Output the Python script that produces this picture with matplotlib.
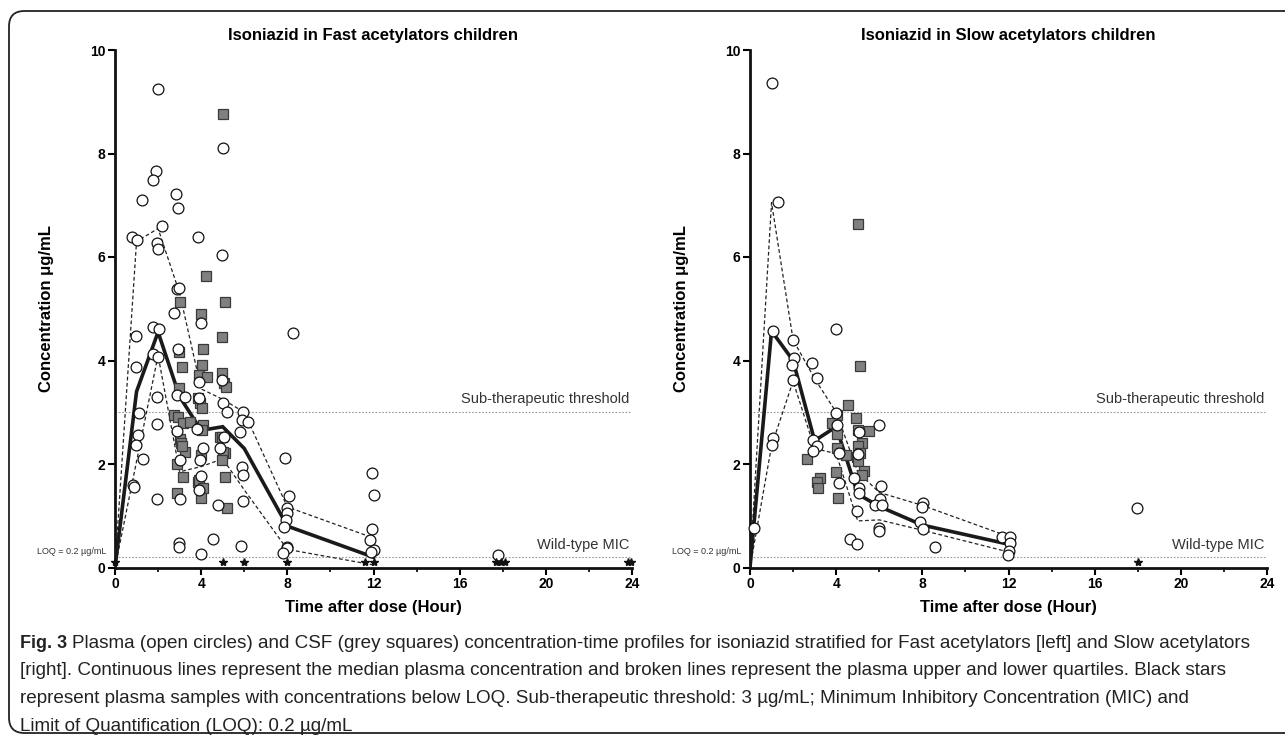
import matplotlib
matplotlib.use("Agg")
import matplotlib.pyplot as plt
from matplotlib.patches import FancyBboxPatch
from matplotlib.ticker import MultipleLocator

plt.rcParams['font.family'] = ['Liberation Sans', 'DejaVu Sans']

# ---- Fast acetylators (left) ----
fast_circ_x = [0.8, 1.0, 1.27, 0.97, 0.97, 1.1, 1.07, 0.97, 1.3, 0.85, 0.9,
               2.0, 1.9, 1.77, 2.18, 1.93, 2.0, 1.76, 2.04, 1.76, 2.0, 1.95, 1.95, 1.95,
               2.83, 2.92, 2.9, 2.95, 2.73, 2.93, 2.87, 3.24, 2.87, 3.0, 3.0, 2.97, 2.97,
               3.83, 4.0, 3.89, 3.89, 3.8, 4.08, 3.94, 3.98, 3.89, 3.98,
               5.0, 4.97, 4.96, 5.0, 5.2, 4.87, 5.05, 4.77, 4.54,
               5.94, 5.9, 6.17, 5.8, 5.9, 5.94, 5.94, 5.84,
               8.25, 7.9, 8.07, 7.97, 7.97, 7.92, 7.83, 7.97, 8.0, 7.8,
               11.95, 12.0, 11.95, 11.86, 12.0, 11.9, 17.8]
fast_circ_y = [6.39, 6.33, 7.1, 4.47, 3.87, 2.98, 2.56, 2.37, 2.1, 1.6, 1.55,
               9.25, 7.66, 7.49, 6.6, 6.27, 6.15, 4.65, 4.6, 4.12, 4.07, 3.3, 2.77, 1.33,
               7.21, 6.94, 5.38, 5.4, 4.92, 4.23, 3.33, 3.3, 2.64, 2.08, 1.32, 0.47, 0.4,
               6.38, 4.73, 3.59, 3.28, 2.67, 2.31, 2.08, 1.77, 1.5, 0.26,
               8.1, 6.03, 3.62, 3.17, 3.0, 2.31, 2.52, 1.21, 0.55,
               3.0, 2.85, 2.81, 2.62, 1.94, 1.79, 1.28, 0.41,
               4.53, 2.12, 1.38, 1.15, 1.05, 0.92, 0.78, 0.4, 0.38, 0.28,
               1.82, 1.4, 0.74, 0.53, 0.34, 0.3, 0.24]
fast_sq_x = [5.0, 4.23, 3.0, 5.1, 4.0, 4.96, 2.95, 4.08, 3.1, 4.03, 4.96, 3.9, 4.26,
             5.05, 5.14, 2.97, 3.85, 3.94, 4.03, 2.73, 2.92, 3.15, 3.48, 4.08, 4.03,
             3.0, 3.05, 3.24, 3.1, 4.87, 4.96, 5.1, 5.0, 4.96, 2.87, 3.98, 5.1, 3.15,
             3.85, 3.9, 4.08, 2.87, 3.98, 5.2]
fast_sq_y = [8.76, 5.63, 5.13, 5.13, 4.9, 4.45, 4.16, 4.22, 3.87, 3.91, 3.76, 3.72, 3.68,
             3.57, 3.49, 3.47, 3.27, 3.18, 3.08, 2.95, 2.91, 2.79, 2.81, 2.75, 2.66,
             2.48, 2.4, 2.23, 2.35, 2.52, 2.52, 2.21, 2.23, 2.08, 2.0, 2.17, 1.75, 1.75,
             1.65, 1.69, 1.53, 1.44, 1.34, 1.15]
fast_star_x = [0, 5, 6, 8, 11.6, 12, 17.7, 17.9, 18.1, 23.8, 23.95]
fast_t = [0, 1, 2, 3, 4, 5, 6, 8, 12]
fast_median = [0, 3.4, 4.55, 3.3, 2.65, 2.72, 2.3, 0.8, 0.2]
fast_upper = [0, 6.3, 6.55, 5.3, 3.45, 3.25, 3.0, 1.17, 0.57]
fast_lower = [0, 2.05, 4.1, 1.85, 1.95, 2.1, 1.5, 0.35, 0.05]

# ---- Slow acetylators (right) ----
slow_circ_x = [0.19, 1.02, 1.3, 1.06, 1.06, 1.02, 1.99, 2.04, 1.95, 1.99, 2.87, 3.1,
               3.99, 3.99, 4.03, 2.92, 3.1, 2.92, 4.12, 5.05, 5.98, 5.0, 4.82, 4.12,
               5.05, 5.05, 6.07, 6.02, 5.79, 6.12, 4.96, 5.98, 5.98, 4.63, 4.96,
               8.02, 7.97, 7.88, 8.02, 8.57, 11.68, 12.05, 12.05, 12.0, 11.96, 17.98]
slow_circ_y = [0.76, 9.37, 7.06, 4.57, 2.5, 2.36, 4.4, 4.04, 3.91, 3.62, 3.95, 3.66,
               4.61, 2.98, 2.75, 2.46, 2.35, 2.25, 2.21, 2.62, 2.75, 2.19, 1.72, 1.64,
               1.54, 1.44, 1.58, 1.32, 1.2, 1.2, 1.09, 0.77, 0.7, 0.55, 0.45,
               1.24, 1.17, 0.88, 0.75, 0.4, 0.59, 0.59, 0.47, 0.32, 0.24, 1.15]
slow_sq_x = [5.0, 5.1, 4.54, 4.91, 4.03, 3.8, 4.03, 5.0, 5.51, 2.64, 4.03, 5.19, 5.0,
             4.45, 5.1, 4.96, 5.0, 5.28, 5.19, 3.99, 3.24, 3.1, 3.15, 4.08]
slow_sq_y = [6.64, 3.89, 3.14, 2.88, 2.95, 2.79, 2.58, 2.66, 2.64, 2.09, 2.31, 2.41, 2.35,
             2.17, 2.21, 2.14, 2.06, 1.86, 1.79, 1.85, 1.73, 1.65, 1.53, 1.34]
slow_star_x = [18]
slow_t = [0, 1, 2, 3, 4, 4.75, 5, 6, 8, 12]
slow_median = [0, 4.57, 4.0, 2.45, 2.72, 1.75, 1.42, 1.18, 0.82, 0.45]
slow_upper_t = [0, 1, 2, 3, 4, 5, 6, 8, 12]
slow_upper = [0, 7.05, 4.4, 3.65, 3.0, 1.85, 1.45, 1.2, 0.6]
slow_lower = [0, 2.35, 3.6, 2.3, 2.2, 0.9, 0.92, 0.72, 0.3]

SUB_THR = 3.0
MIC = 0.2

titles = ["Isoniazid in Fast acetylators children", "Isoniazid in Slow acetylators children"]
caption = [
    "Plasma (open circles) and CSF (grey squares) concentration-time profiles for isoniazid stratified for Fast acetylators [left] and Slow acetylators",
    "[right]. Continuous lines represent the median plasma concentration and broken lines represent the plasma upper and lower quartiles. Black stars",
    "represent plasma samples with concentrations below LOQ. Sub-therapeutic threshold: 3 \u00b5g/mL; Minimum Inhibitory Concentration (MIC) and",
    "Limit of Quantification (LOQ): 0.2 \u00b5g/mL",
]

fig = plt.figure(figsize=(12.85, 7.36), dpi=100)

# rounded frame around the figure
frame = FancyBboxPatch((9 / 1285, 3 / 736), 1300 / 1285, 722 / 736,
                       boxstyle="round,pad=0,rounding_size=0.012",
                       transform=fig.transFigure, fill=False, lw=1.3, ec='#222222',
                       mutation_aspect=1285 / 736)
fig.patches.append(frame)

panels = [
    dict(left=115, circ=(fast_circ_x, fast_circ_y), sq=(fast_sq_x, fast_sq_y), stars=fast_star_x,
         med=(fast_t, fast_median), up=(fast_t, fast_upper), lo=(fast_t, fast_lower), title=titles[0]),
    dict(left=750, circ=(slow_circ_x, slow_circ_y), sq=(slow_sq_x, slow_sq_y), stars=slow_star_x,
         med=(slow_t, slow_median), up=(slow_upper_t, slow_upper), lo=(slow_upper_t, slow_lower), title=titles[1]),
]

for p in panels:
    ax = fig.add_axes([p['left'] / 1285, (736 - 567.5) / 736, 517 / 1285, 517.5 / 736])
    ax.set_xlim(0, 24)
    ax.set_ylim(0, 10)
    ax.axhline(SUB_THR, color='#9a9a9a', lw=0.8, ls=(0, (1.5, 1.5)), zorder=1)
    ax.axhline(MIC, color='#9a9a9a', lw=0.8, ls=(0, (1.5, 1.5)), zorder=1)
    ax.plot(*p['up'], color='#222222', lw=0.9, ls=(0, (3, 2)), zorder=2)
    ax.plot(*p['lo'], color='#222222', lw=0.9, ls=(0, (3, 2)), zorder=2)
    ax.plot(*p['med'], color='#1a1a1a', lw=2.6, zorder=3, solid_joinstyle='miter')
    ax.plot(*p['sq'], ls='none', marker='s', ms=7, mfc='#808080', mec='#3a3a3a', mew=0.9,
            zorder=4, clip_on=False)
    ax.plot(*p['circ'], ls='none', marker='o', ms=7.8, mfc='white', mec='#111111', mew=0.9,
            zorder=5, clip_on=False)
    ax.plot(p['stars'], [0.1] * len(p['stars']), ls='none', marker='*', ms=6, color='#111111',
            zorder=6, clip_on=False)

    ax.text(23.9, SUB_THR + 0.12, "Sub-therapeutic threshold", ha='right', va='bottom',
            fontsize=10.5, color='#333333')
    ax.text(23.9, MIC + 0.1, "Wild-type MIC", ha='right', va='bottom',
            fontsize=10.5, color='#333333')
    ax.text(-0.4, MIC + 0.02, "LOQ = 0.2 \u00b5g/mL", ha='right', va='bottom',
            fontsize=6.5, color='#333333', clip_on=False)

    for s in ['top', 'right']:
        ax.spines[s].set_visible(False)
    for s in ['left', 'bottom']:
        ax.spines[s].set_linewidth(2.0)
        ax.spines[s].set_color('#111111')
    ax.xaxis.set_major_locator(MultipleLocator(4))
    ax.xaxis.set_minor_locator(MultipleLocator(2))
    ax.yaxis.set_major_locator(MultipleLocator(2))
    ax.tick_params(which='major', length=5, width=1.5, labelsize=10, pad=2)
    ax.tick_params(which='minor', length=3, width=1.2)
    for lab in ax.get_xticklabels() + ax.get_yticklabels():
        lab.set_fontweight('bold')
    ax.set_xlabel("Time after dose (Hour)", fontsize=12, fontweight='bold', labelpad=6)
    ax.set_ylabel("Concentration \u03bcg/mL", fontsize=12, fontweight='bold', labelpad=26)
    ax.set_title(p['title'], fontsize=12, fontweight='bold', pad=7)

# caption: bold "Fig. 3" then regular text, sized to fill the frame width
cap_fam = ['Liberation Sans Narrow', 'Liberation Sans', 'DejaVu Sans']
r = fig.canvas.get_renderer()
y0 = 1 - 643 / 736
t_bold = fig.text(20 / 1285, y0, "Fig. 3", fontsize=13, fontweight='bold', family=cap_fam,
                  va='center', color='#222222')
bb = t_bold.get_window_extent(r)
x1 = (bb.x1 + 5) / 1285
test = fig.text(x1, y0, caption[0], fontsize=12.5, family=cap_fam, va='center')
w = test.get_window_extent(r).width
test.remove()
fs = 12.5 * (1262 - bb.x1 - 5) / w
fig.text(x1, y0, caption[0], fontsize=fs, family=cap_fam, va='center', color='#222222')
for i, line in enumerate(caption[1:], start=1):
    fig.text(20 / 1285, 1 - (643 + 27.7 * i) / 736, line, fontsize=fs, family=cap_fam,
             va='center', color='#222222')

fig.savefig("out.png", dpi=100)
